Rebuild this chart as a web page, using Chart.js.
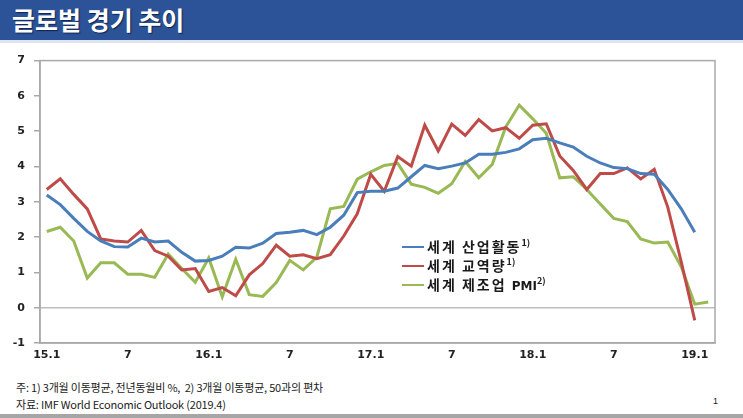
<!DOCTYPE html>
<html>
<head>
<meta charset="utf-8">
<script src="https://cdn.jsdelivr.net/npm/chart.js@4.4.1/dist/chart.umd.min.js"></script>
<style>
  html, body { margin:0; padding:0; background:#fff; }
  body { width:743px; height:418px; position:relative; overflow:hidden; font-family:"Noto Sans CJK KR","Noto Sans",sans-serif; }
  #titlebar { position:absolute; left:0; top:0; width:743px; height:40px; background:#2c5297; }
  #title { position:absolute; left:12px; top:3px; color:#fff; font-size:25px; font-weight:bold; line-height:32px; text-shadow:1px 1px 1px #10254d; letter-spacing:0px; }
  #strip { position:absolute; left:0; top:40px; width:743px; height:3px; background:#dde4f0; }
  #bottomline { position:absolute; left:0; top:414px; width:743px; height:4px; background:#a6a6a6; }
  #chartwrap { position:absolute; left:0; top:45px; width:743px; height:325px; }
  .legrow { position:absolute; left:402px; height:18px; font-size:14px; font-weight:bold; color:#1a1a1a; white-space:nowrap; letter-spacing:2px; }
  .legrow .ln { position:absolute; left:0; top:8px; width:22px; height:2px; }
  .legrow .tx { position:absolute; left:25px; top:-2px; line-height:20px; }
  .legrow sup { font-size:9px; letter-spacing:0; vertical-align:6px; line-height:0; }
  .legrow .pmi { font-size:12px; letter-spacing:0; font-family:"DejaVu Sans",sans-serif; }
  .note { position:absolute; left:16px; font-size:11px; color:#222; font-family:"Liberation Sans Narrow","Noto Sans CJK KR",sans-serif; white-space:nowrap; letter-spacing:-0.2px; }
  #pageno { position:absolute; left:713px; top:396px; font-size:9px; color:#222; font-family:"Liberation Sans",sans-serif; }
</style>
</head>
<body>
<div id="titlebar"><div id="title">글로벌 경기 추이</div></div>
<div id="strip"></div>
<div id="chartwrap"><canvas id="c" width="743" height="325"></canvas></div>
<div class="legrow" style="top:238px"><div class="ln" style="background:#4a7ebb"></div><div class="tx">세계 산업활동<sup>1)</sup></div></div>
<div class="legrow" style="top:257px"><div class="ln" style="background:#be4b48"></div><div class="tx">세계 교역량<sup>1)</sup></div></div>
<div class="legrow" style="top:276px"><div class="ln" style="background:#98b954"></div><div class="tx">세계 제조업 <span class="pmi">PMI</span><sup>2)</sup></div></div>
<div class="note" style="top:379px">주: 1) 3개월 이동평균, 전년동월비 %,&nbsp; 2) 3개월 이동평균, 50과의 편차</div>
<div class="note" style="top:396px">자료: IMF World Economic Outlook (2019.4)</div>
<div id="pageno">1</div>
<div id="bottomline"></div>
<script>
const months = [
  '15.1','15.2','15.3','15.4','15.5','15.6','15.7','15.8','15.9','15.10','15.11','15.12',
  '16.1','16.2','16.3','16.4','16.5','16.6','16.7','16.8','16.9','16.10','16.11','16.12',
  '17.1','17.2','17.3','17.4','17.5','17.6','17.7','17.8','17.9','17.10','17.11','17.12',
  '18.1','18.2','18.3','18.4','18.5','18.6','18.7','18.8','18.9','18.10','18.11','18.12',
  '19.1','19.2'
];
const xTickLabels = ['15.1','7','16.1','7','17.1','7','18.1','7','19.1'];
const yTickValues = [-1,0,1,2,3,4,5,6,7];

const industrial = [
  3.19,2.92,2.53,2.16,1.89,1.73,1.72,1.97,1.86,1.89,1.57,1.32,
  1.34,1.46,1.71,1.69,1.83,2.10,2.14,2.19,2.07,2.28,2.62,3.26,
  3.30,3.30,3.39,3.71,4.03,3.94,4.01,4.10,4.35,4.35,4.40,4.50,
  4.76,4.80,4.67,4.55,4.29,4.10,3.97,3.94,3.80,3.78,3.35,2.80,
  2.14,null
];
const trade = [
  3.35,3.65,3.21,2.80,1.95,1.89,1.86,2.19,1.62,1.46,1.07,1.11,
  0.46,0.57,0.34,0.93,1.25,1.77,1.46,1.50,1.39,1.50,2.03,2.66,
  3.78,3.30,4.28,4.01,5.17,4.44,5.20,4.88,5.33,5.01,5.10,4.80,
  5.17,5.21,4.30,3.89,3.35,3.80,3.80,3.96,3.65,3.92,2.85,1.30,
  -0.36,null
];
const pmi = [
  2.16,2.28,1.89,0.84,1.27,1.27,0.95,0.95,0.86,1.52,1.11,0.72,
  1.41,0.31,1.37,0.37,0.32,0.71,1.34,1.07,1.43,2.80,2.87,3.64,
  3.85,4.03,4.09,3.50,3.41,3.24,3.51,4.14,3.68,4.06,5.12,5.74,
  5.35,4.94,3.68,3.71,3.35,2.94,2.53,2.44,1.95,1.83,1.86,1.16,
  0.10,0.16
];

const frame = {
  id:'frame',
  beforeDatasetsDraw(chart){
    const a = chart.chartArea, ctx = chart.ctx;
    ctx.save();
    ctx.strokeStyle = '#a9a9a9';
    ctx.lineWidth = 1.5;
    ctx.strokeRect(a.left, a.top, a.right - a.left, a.bottom - a.top);
    ctx.restore();
  }
};

new Chart(document.getElementById('c'), {
  type:'line',
  data:{
    labels: months,
    datasets:[
      {label:'세계 산업활동', data:industrial, borderColor:'#4a7ebb', borderWidth:3, pointRadius:0, tension:0},
      {label:'세계 교역량', data:trade, borderColor:'#be4b48', borderWidth:3, pointRadius:0, tension:0},
      {label:'세계 제조업 PMI', data:pmi, borderColor:'#98b954', borderWidth:3, pointRadius:0, tension:0}
    ]
  },
  options:{
    responsive:false,
    devicePixelRatio:1,
    animation:false,
    layout:{ padding:{ top:6, right:28, left:0, bottom:0 } },
    plugins:{ legend:{display:false}, tooltip:{enabled:false} },
    scales:{
      x:{
        type:'category',
        offset:true,
        afterFit(s){ s.height = 27; },
        grid:{ display:true, drawOnChartArea:false, drawTicks:false, color:'transparent' },
        border:{ display:true, color:'#a9a9a9', width:1.5 },
        ticks:{
          autoSkip:false, maxRotation:0, minRotation:0, padding:6,
          color:'#222', font:{ family:'"DejaVu Sans", sans-serif', size:11, weight:'bold' },
          callback(v, i){ return i % 6 === 0 ? xTickLabels[i/6] : ''; }
        }
      },
      y:{
        min:-1, max:7,
        afterFit(s){ s.width = 40; },
        afterBuildTicks(s){ s.ticks = yTickValues.map(v => ({value:v})); },
        grid:{
          drawTicks:true, tickLength:6, tickColor:'#a9a9a9',
          color(ctx){ return ctx.tick && ctx.tick.value === 0 ? '#bdbdbd' : 'transparent'; },
          lineWidth:1.5
        },
        border:{ display:true, color:'#a9a9a9', width:1.5 },
        ticks:{
          padding:9, color:'#222',
          font:{ family:'"DejaVu Sans", sans-serif', size:11, weight:'bold' },
          callback(v){ return String(v); }
        }
      }
    }
  },
  plugins:[frame]
});
</script>
</body>
</html>
